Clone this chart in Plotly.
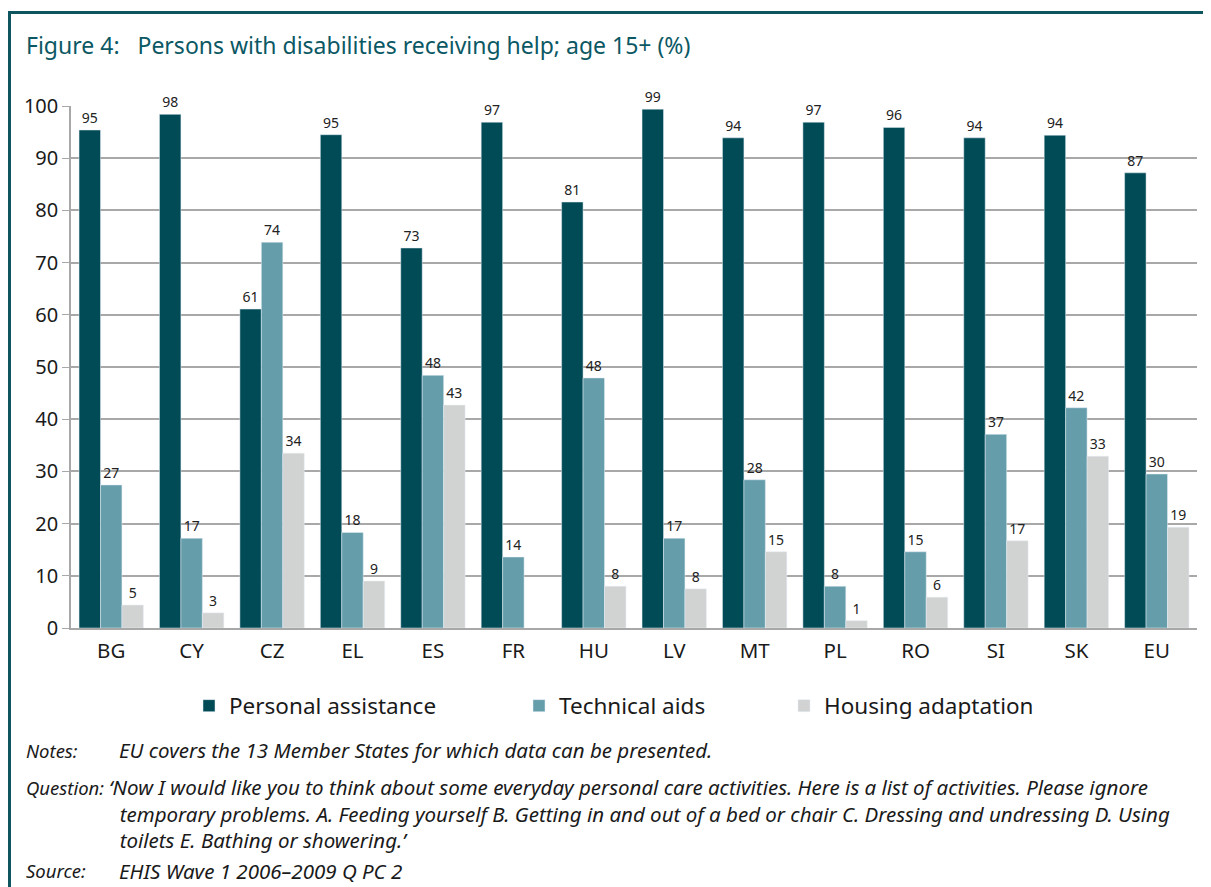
import plotly.graph_objects as go

countries = ["BG", "CY", "CZ", "EL", "ES", "FR", "HU", "LV", "MT", "PL", "RO", "SI", "SK", "EU"]

personal = [95.4, 98.4, 61.1, 94.5, 72.8, 96.9, 81.6, 99.4, 93.9, 96.9, 95.9, 93.9, 94.4, 87.2]
technical = [27.4, 17.2, 73.9, 18.3, 48.4, 13.6, 47.9, 17.2, 28.4, 8.0, 14.6, 37.1, 42.2, 29.5]
housing = [4.4, 2.9, 33.5, 9.0, 42.7, None, 8.0, 7.5, 14.6, 1.4, 5.9, 16.7, 32.9, 19.3]

personal_lbl = ["95", "98", "61", "95", "73", "97", "81", "99", "94", "97", "96", "94", "94", "87"]
technical_lbl = ["27", "17", "74", "18", "48", "14", "48", "17", "28", "8", "15", "37", "42", "30"]
housing_lbl = ["5", "3", "34", "9", "43", "", "8", "8", "15", "1", "6", "17", "33", "19"]

series = [
    ("Personal assistance", personal, personal_lbl, "#004b56", "legend", 189),
    ("Technical aids", technical, technical_lbl, "#659eaa", "legend2", 519),
    ("Housing adaptation", housing, housing_lbl, "#d1d3d2", "legend3", 784),
]

FONT = "Noto Sans, Open Sans, sans-serif"
TEAL = "#0b5864"

# the page puts the figure 8px in from the corner; positions below are page pixels
OFF = 8
W, H = 1211 - OFF, 887 - OFF
L, R, T, B = 71 - OFF, 1211 - 1197, 106 - OFF, 887 - 628


def px(x):
    return (x - OFF - L) / (W - L - R)


def py(y):
    return (H - B - (y - OFF)) / (H - T - B)


fig = go.Figure()
for name, vals, lbls, col, leg, lx in series:
    fig.add_trace(go.Bar(
        x=countries, y=vals, name=name, marker_color=col, legend=leg,
        text=lbls, textposition="outside", cliponaxis=False,
        textfont=dict(size=14, color="#222222", family=FONT),
    ))

legends = {}
for name, vals, lbls, col, leg, lx in series:
    legends[leg] = dict(
        orientation="h", x=px(lx), xanchor="left", y=py(706), yanchor="middle",
        font=dict(size=22.5, color="#1a1a1a", family=FONT),
        bgcolor="rgba(0,0,0,0)",
    )

fig.update_layout(
    width=W, height=H,
    margin=dict(l=L, r=R, t=T, b=B),
    paper_bgcolor="white", plot_bgcolor="white",
    barmode="group", bargap=0.2, bargroupgap=0.0,
    font=dict(family=FONT, color="#1a1a1a"),
    showlegend=True,
    **legends,
)

fig.update_yaxes(
    range=[0, 100], dtick=10, showgrid=True, gridcolor="#a8a8a8", gridwidth=1.5,
    showline=True, linecolor="#a8a8a8", linewidth=1.5,
    ticks="outside", ticklen=7, tickcolor="#a8a8a8",
    tickfont=dict(size=20, color="#1a1a1a"), zeroline=False,
)
fig.update_xaxes(
    showline=True, linecolor="#a8a8a8", linewidth=1.5, ticks="",
    tickfont=dict(size=20.5, color="#1a1a1a"), ticklabelstandoff=4,
)

# frame around the figure
fig.add_shape(type="rect", xref="paper", yref="paper",
              x0=px(9.5), x1=px(1300), y0=py(1000), y1=py(12.5),
              line=dict(color="#0f5560", width=3), layer="below")

fig.add_annotation(
    text="Figure 4:   Persons with disabilities receiving help; age 15+ (%)",
    xref="paper", yref="paper", x=px(24), y=py(45), xanchor="left", yanchor="middle",
    showarrow=False, font=dict(size=23, color=TEAL, family=FONT),
)

NOTE_FONT = "Noto Sans, sans-serif"
IND = "\u00a0\u00a0"
question = ("‘Now I would like you to think about some everyday personal care activities. Here is a list of activities. Please ignore<br>"
            + IND + "temporary problems. A. Feeding yourself B. Getting in and out of a bed or chair C. Dressing and undressing D. Using<br>"
            + IND + "toilets E. Bathing or showering.’")

labels = [("Notes:", 750), ("Question:", 787), ("Source:", 870)]
bodies = [
    ("EU covers the 13 Member States for which data can be presented.", 750, 117, "middle"),
    (question, 771, 107, "top"),
    ("EHIS Wave 1 2006–2009 Q PC 2", 871, 117, "middle"),
]
for lab, y in labels:
    fig.add_annotation(text="<i>%s</i>" % lab, xref="paper", yref="paper",
                       x=px(24), y=py(y), xanchor="left", yanchor="middle",
                       showarrow=False, font=dict(size=18.5, color="#1a1a1a", family=NOTE_FONT))
for body, y, bx, ya in bodies:
    fig.add_annotation(text="<i>%s</i>" % body, xref="paper", yref="paper",
                       x=px(bx), y=py(y), xanchor="left", align="left", yanchor=ya,
                       showarrow=False, font=dict(size=20.5, color="#1a1a1a", family=NOTE_FONT))

fig.write_html("out.html")
